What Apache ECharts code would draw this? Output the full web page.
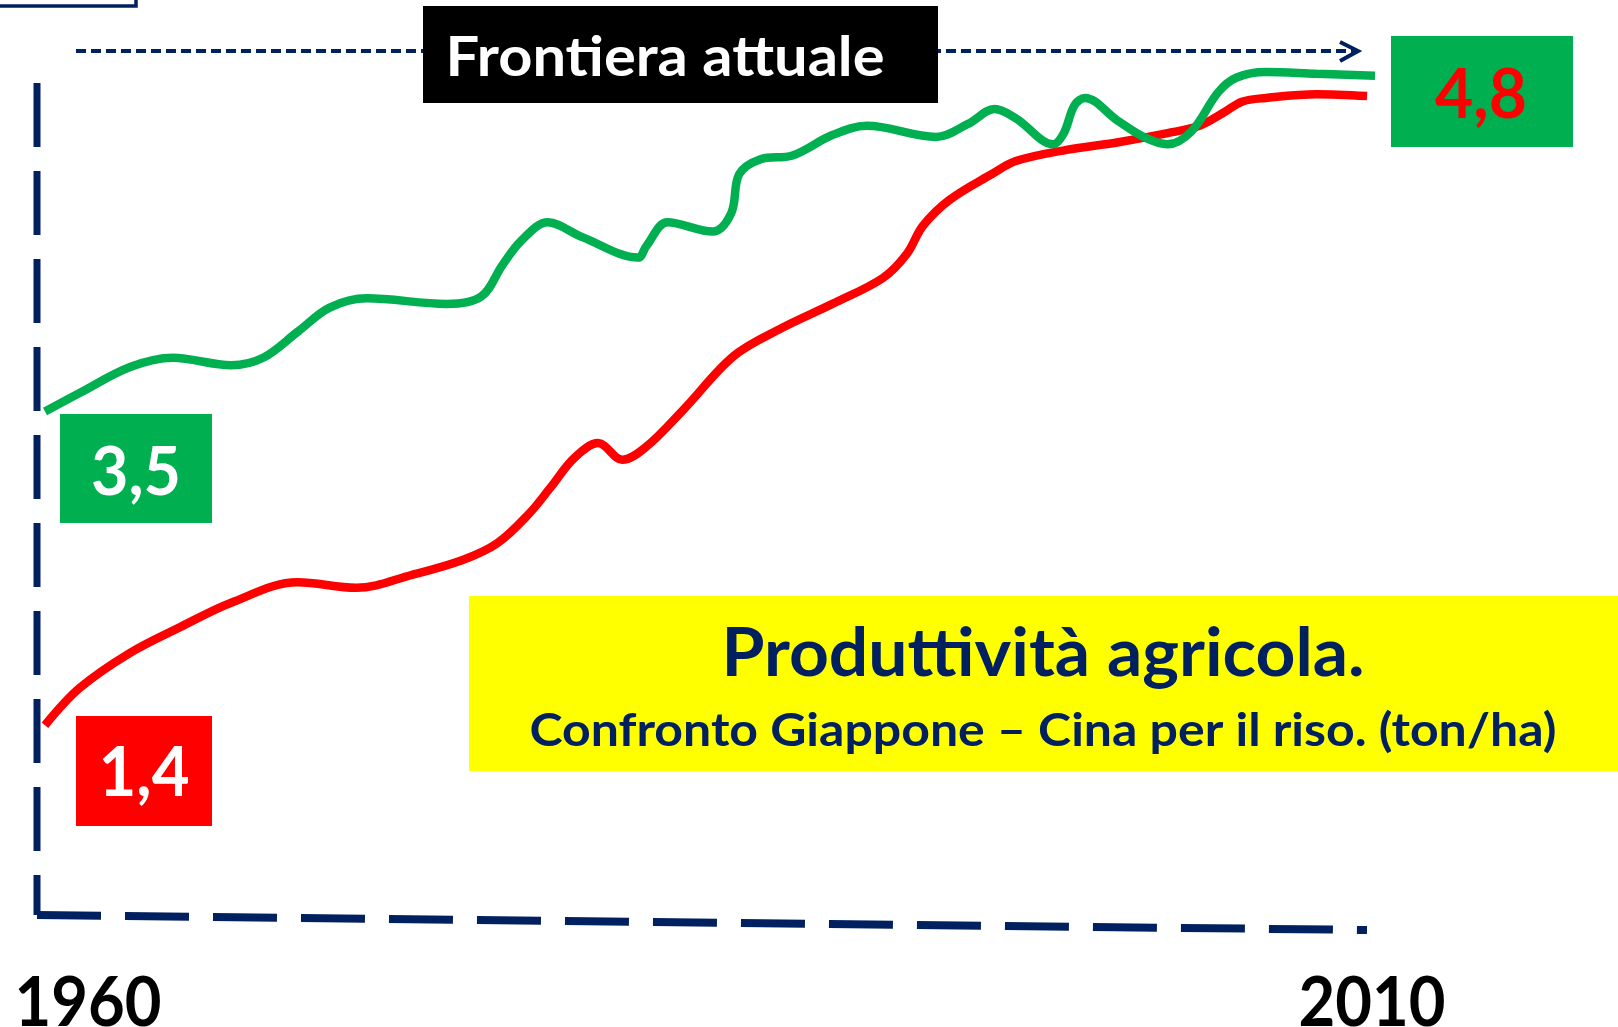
<!DOCTYPE html>
<html>
<head>
<meta charset="utf-8">
<script src="https://cdn.jsdelivr.net/npm/echarts@6/dist/echarts.min.js"></script>
<style>
  html, body { margin: 0; padding: 0; background: #fff; }
  #chart { width: 1618px; height: 1027px; }
</style>
</head>
<body>
<div id="chart"></div>
<script>
// resa del riso, tracciata a mano (scala indicativa)
const japanYears = [1960.0, 1961.3, 1963.2, 1964.8, 1967.0, 1968.2, 1969.5, 1970.7, 1972.1, 1975.1, 1976.4, 1977.2, 1977.9, 1978.9, 1980.2, 1982.3, 1982.6, 1983.4, 1985.1, 1985.8, 1986.1, 1986.9, 1988.1, 1989.6, 1990.9, 1993.5, 1994.7, 1995.7, 1996.5, 1997.9, 1998.3, 1998.7, 1999.1, 2000.3, 2001.3, 2002.2, 2003.1, 2004.1, 2004.8, 2005.9, 2007.8, 2010.0];
const japanYield = [3.09, 3.19, 3.33, 3.38, 3.34, 3.38, 3.52, 3.65, 3.70, 3.67, 3.71, 3.88, 4.01, 4.11, 4.03, 3.92, 3.98, 4.11, 4.06, 4.16, 4.37, 4.45, 4.47, 4.58, 4.63, 4.57, 4.64, 4.72, 4.67, 4.53, 4.59, 4.74, 4.78, 4.66, 4.57, 4.53, 4.60, 4.81, 4.89, 4.92, 4.91, 4.90];

const chinaYears = [1960.0, 1961.3, 1963.2, 1965.1, 1967.0, 1969.5, 1971.7, 1973.8, 1975.7, 1977.0, 1978.2, 1979.0, 1979.9, 1980.8, 1981.7, 1982.6, 1984.0, 1985.9, 1987.7, 1989.6, 1991.5, 1992.4, 1993.0, 1994.0, 1995.6, 1996.5, 1998.4, 2000.3, 2002.2, 2003.4, 2004.3, 2005.0, 2005.9, 2007.8, 2009.7];
const chinaYield = [1.40, 1.60, 1.79, 1.93, 2.06, 2.17, 2.14, 2.21, 2.29, 2.38, 2.54, 2.68, 2.84, 2.92, 2.83, 2.90, 3.10, 3.39, 3.54, 3.67, 3.81, 3.94, 4.09, 4.23, 4.37, 4.44, 4.50, 4.54, 4.59, 4.63, 4.70, 4.76, 4.78, 4.80, 4.79];

const yearLabels = ['1960', '2010'];
const startJapan = '3,5';
const startChina = '1,4';
const endLabel = '4,8';
const frontierLabel = 'Frontiera attuale';
const titleText = 'Produttività agricola.';
const subText = 'Confronto Giappone – Cina per il riso. (ton/ha)';

const NAVY = '#002060';
const GREEN = '#00B050';
const RED = '#FF0000';

const pairs = (xs, ys) => xs.map((x, i) => [x, ys[i]]);

// calcola scaleX per far stare il testo nella larghezza voluta
const mctx = document.createElement('canvas').getContext('2d');
function fitX(text, font, width) {
    mctx.font = font;
    return width / mctx.measureText(text).width;
}

function label(text, cx, cy, size, color, width) {
    const font = 'bold ' + size + 'px Lato';
    return {
        type: 'text',
        x: cx, y: cy,
        scaleX: width ? fitX(text, font, width) : 1,
        style: {
            text: text,
            font: font,
            fill: color,
            textAlign: 'center',
            textVerticalAlign: 'middle'
        }
    };
}

const chart = echarts.init(document.getElementById('chart'));

const option = {
    animation: false,
    grid: { left: 45, right: 243, top: 20, bottom: 42 },
    xAxis: { type: 'value', min: 1960, max: 2010, show: false },
    yAxis: { type: 'value', min: 0, max: 5.2, show: false },
    graphic: [
        // riquadro in alto a sinistra
        { type: 'rect', shape: { x: -6, y: -20, width: 142, height: 26 },
          style: { fill: 'none', stroke: NAVY, lineWidth: 3.5 } },
        // assi tratteggiati
        { type: 'line', shape: { x1: 37, y1: 83, x2: 37, y2: 915 },
          style: { stroke: NAVY, lineWidth: 7, lineDash: [64, 24] } },
        { type: 'line', shape: { x1: 37, y1: 915, x2: 1367, y2: 930 },
          style: { stroke: NAVY, lineWidth: 8, lineDash: [64, 24] } },
        // freccia frontiera
        { type: 'line', shape: { x1: 76, y1: 51, x2: 1356, y2: 51 },
          style: { stroke: NAVY, lineWidth: 4, lineDash: [10, 5] } },
        { type: 'polyline', shape: { points: [[1340, 42], [1358, 51], [1340, 61]] },
          style: { fill: 'none', stroke: NAVY, lineWidth: 4 } },
        { type: 'rect', shape: { x: 423, y: 6, width: 515, height: 97 }, style: { fill: '#000' } },
        label(frontierLabel, 665, 58, 56, '#fff', 439),
        // valori
        { type: 'rect', shape: { x: 1391, y: 36, width: 182, height: 111 }, style: { fill: GREEN } },
        label(endLabel, 1481, 96, 68, RED, 92),
        { type: 'rect', shape: { x: 60, y: 414, width: 152, height: 109 }, style: { fill: GREEN } },
        label(startJapan, 136, 473, 67, '#fff', 90),
        { type: 'rect', shape: { x: 76, y: 716, width: 136, height: 110 }, style: { fill: RED } },
        label(startChina, 144, 774, 68, '#fff', 91),
        // titolo
        { type: 'rect', shape: { x: 469, y: 596, width: 1160, height: 175 }, style: { fill: '#FFFF00' } },
        label(titleText, 1043, 655, 66, NAVY, 643),
        label(subText, 1043, 731, 45, NAVY, 1027),
        // anni
        label(yearLabels[0], 88, 1004, 68, '#000', 147),
        label(yearLabels[1], 1372, 1004, 68, '#000', 147)
    ],
    series: [
        {
            name: 'Cina',
            type: 'line',
            data: pairs(chinaYears, chinaYield),
            smooth: 0.35,
            showSymbol: false,
            lineStyle: { color: RED, width: 8.5 },
            z: 3
        },
        {
            name: 'Giappone',
            type: 'line',
            data: pairs(japanYears, japanYield),
            smooth: 0.35,
            showSymbol: false,
            lineStyle: { color: GREEN, width: 8.5 },
            z: 4
        }
    ]
};

chart.setOption(option);
</script>
</body>
</html>
